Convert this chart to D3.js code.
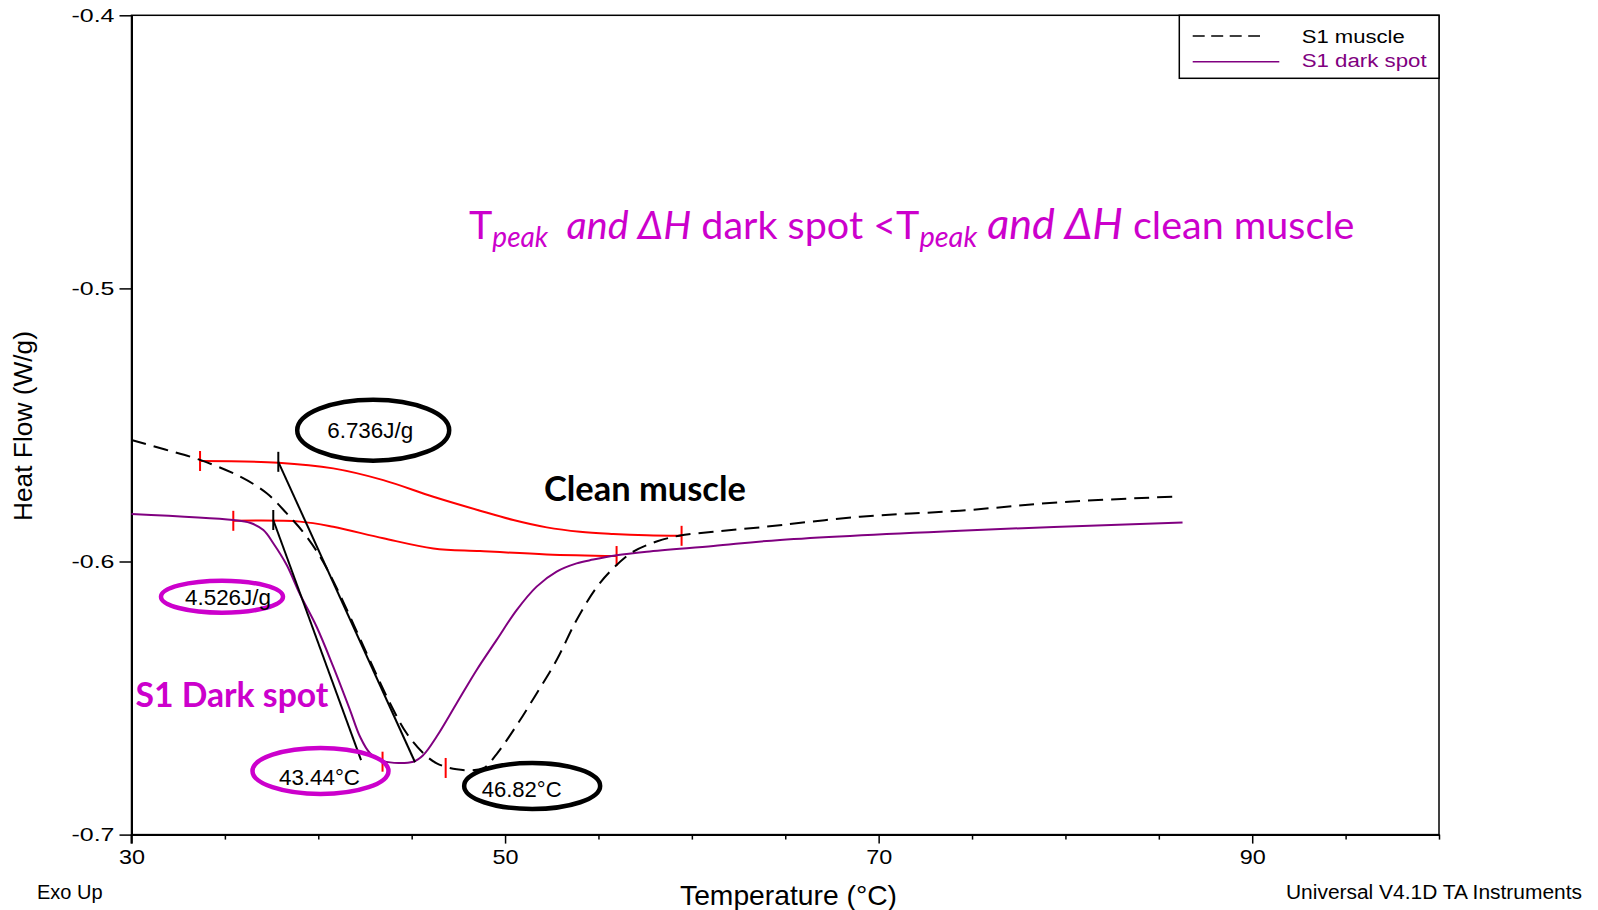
<!DOCTYPE html>
<html>
<head>
<meta charset="utf-8">
<script src="https://cdn.jsdelivr.net/npm/d3@7"></script>
<style>
  body { margin: 0; background: #fff; }
  svg { display: block; }
  text { white-space: pre; }
</style>
</head>
<body>
<svg id="chart" width="1598" height="910"></svg>
<script>
// ---------------- DATA ----------------
// S1 muscle (dashed black) : temperature (°C) and heat flow (W/g)
const muscleTemp = [30.0, 31.8, 33.67, 35.81, 37.24, 38.31, 39.38, 40.45, 43.84, 44.73, 45.62, 46.34, 47.41, 48.83, 49.55, 50.62, 51.69, 52.76, 53.83, 54.90, 55.79, 56.86, 58.11, 59.36, 61.15, 63.64, 69.0, 74.35, 79.71, 85.95];
const muscleHeatFlow = [-0.5555, -0.5590, -0.5628, -0.5689, -0.5750, -0.5824, -0.5909, -0.6025, -0.6519, -0.6629, -0.6702, -0.6739, -0.6761, -0.6757, -0.6705, -0.6600, -0.6483, -0.6361, -0.6214, -0.6095, -0.6025, -0.5964, -0.5927, -0.5905, -0.5891, -0.5875, -0.5836, -0.5814, -0.5783, -0.5762];

// S1 dark spot (purple solid)
const darkTemp = [30.0, 35.45, 36.34, 37.06, 37.59, 38.31, 39.02, 39.91, 40.80, 41.70, 42.23, 42.77, 43.48, 45.09, 45.62, 46.34, 47.41, 48.48, 49.55, 50.62, 51.69, 52.76, 53.83, 54.72, 55.97, 57.58, 61.15, 64.72, 74.35, 86.27];
const darkHeatFlow = [-0.5826, -0.5848, -0.5858, -0.5885, -0.5933, -0.6013, -0.6120, -0.6239, -0.6385, -0.6544, -0.6641, -0.6702, -0.6731, -0.6733, -0.6709, -0.6641, -0.6519, -0.6397, -0.6287, -0.6178, -0.6092, -0.6037, -0.6007, -0.5993, -0.5977, -0.5964, -0.5943, -0.5921, -0.5887, -0.5857];

// Integration baselines (red)
const muscleBaseTemp = [33.67, 37.86, 40.80, 43.48, 46.16, 48.66, 50.44, 52.23, 54.01, 55.79, 57.58, 59.45];
const muscleBaseHeatFlow = [-0.5632, -0.5638, -0.5659, -0.5702, -0.5763, -0.5814, -0.5848, -0.5875, -0.5891, -0.5899, -0.5904, -0.5906];
const darkBaseTemp = [35.45, 39.02, 40.80, 43.48, 46.16, 48.66, 52.23, 55.97];
const darkBaseHeatFlow = [-0.5851, -0.5854, -0.5873, -0.5915, -0.5952, -0.5962, -0.5974, -0.5980];

// Onset tangent lines (black): [start, end]
const muscleTangentTemp = [37.86, 45.18];
const muscleTangentHeatFlow = [-0.5635, -0.6735];
const darkTangentTemp = [37.59, 42.29];
const darkTangentHeatFlow = [-0.5848, -0.6727];

// Peak markers
const peakTemps = [43.44, 46.82];
const peakHeatFlows = [-0.6733, -0.6756];
const peakLabels = ["43.44°C", "46.82°C"];
const enthalpyLabels = ["6.736J/g", "4.526J/g"];

// Axes
const xMajorTicks = [30, 50, 70, 90];
const xMinorTicks = [35, 40, 45, 55, 60, 65, 75, 80, 85, 95, 100];
const yTicks = [-0.4, -0.5, -0.6, -0.7];
const xDomain = [30, 100];
const yDomain = [-0.7, -0.4];
const seriesNames = ["S1 muscle", "S1 dark spot"];

// ---------------- CHART ----------------
const svg = d3.select("#chart");
const pLeft = 131.5, pRight = 1439, pTop = 15.3, pBottom = 834.6;
const x = d3.scaleLinear().domain(xDomain).range([pLeft, pRight]);
const y = d3.scaleLinear().domain(yDomain).range([pBottom, pTop]);

const PURPLE = "#800080";
const MAGENTA = "#cc00cc";
const ARIAL = "'Liberation Sans', Arial, sans-serif";
const CALIBRI = "Lato, 'Open Sans', sans-serif";

// frame
svg.append("rect")
  .attr("x", x(xDomain[0])).attr("y", y(yDomain[1]))
  .attr("width", x(xDomain[1]) - x(xDomain[0]))
  .attr("height", y(yDomain[0]) - y(yDomain[1]))
  .attr("fill", "none").attr("stroke", "#000").attr("stroke-width", 1.5);

// x axis major
const xAxisMajor = svg.append("g").attr("transform", `translate(0,${pBottom})`)
  .call(d3.axisBottom(x).tickValues(xMajorTicks).tickSize(9).tickPadding(5).tickSizeOuter(0).tickFormat(d3.format("d")));
xAxisMajor.select(".domain").attr("stroke-width", 2);
xAxisMajor.selectAll(".tick line").attr("stroke-width", 1.5);
xAxisMajor.selectAll(".tick text").attr("font-family", ARIAL).attr("font-size", 21)
  .attr("textLength", 26).attr("lengthAdjust", "spacingAndGlyphs").attr("fill", "#000");

const xAxisMinor = svg.append("g").attr("transform", `translate(0,${pBottom})`)
  .call(d3.axisBottom(x).tickValues(xMinorTicks).tickSize(5).tickSizeOuter(0).tickFormat(""));
xAxisMinor.select(".domain").remove();
xAxisMinor.selectAll(".tick line").attr("stroke-width", 1.5);

// y axis
const yAxis = svg.append("g").attr("transform", `translate(${pLeft},0)`)
  .call(d3.axisLeft(y).tickValues(yTicks).tickSize(12).tickPadding(5).tickSizeOuter(0).tickFormat(d3.format(".1f")));
yAxis.select(".domain").attr("stroke-width", 2);
yAxis.selectAll(".tick line").attr("stroke-width", 1.5);
yAxis.selectAll(".tick text").attr("font-family", ARIAL).attr("font-size", 19)
  .attr("textLength", 43).attr("lengthAdjust", "spacingAndGlyphs").attr("fill", "#000")
  .text(d => d3.format(".1f")(d).replace("−", "-"));
svg.append("line").attr("x1", pLeft).attr("x2", pLeft).attr("y1", pBottom).attr("y2", pBottom + 9)
  .attr("stroke", "#000").attr("stroke-width", 2);

// ---------------- LINES ----------------
const line = d3.line().x(d => x(d[0])).y(d => y(d[1])).curve(d3.curveCatmullRom.alpha(0.5));
const zipPts = (a, b) => a.map((t, i) => [t, b[i]]);

// baselines (red)
[[muscleBaseTemp, muscleBaseHeatFlow], [darkBaseTemp, darkBaseHeatFlow]].forEach(([t, v]) => {
  svg.append("path").attr("d", line(zipPts(t, v))).attr("fill", "none")
    .attr("stroke", "#ff0000").attr("stroke-width", 2);
  [0, t.length - 1].forEach(i => {
    svg.append("line").attr("x1", x(t[i])).attr("x2", x(t[i]))
      .attr("y1", y(v[i]) - 10).attr("y2", y(v[i]) + 10)
      .attr("stroke", "#ff0000").attr("stroke-width", 2);
  });
});

// dark spot curve
svg.append("path").attr("d", line(zipPts(darkTemp, darkHeatFlow))).attr("fill", "none")
  .attr("stroke", PURPLE).attr("stroke-width", 2);

// muscle curve
svg.append("path").attr("d", line(zipPts(muscleTemp, muscleHeatFlow))).attr("fill", "none")
  .attr("stroke", "#000").attr("stroke-width", 2).attr("stroke-dasharray", "15,8");

// tangent lines and onset ticks
[[muscleTangentTemp, muscleTangentHeatFlow], [darkTangentTemp, darkTangentHeatFlow]].forEach(([t, v]) => {
  svg.append("line").attr("x1", x(t[0])).attr("y1", y(v[0])).attr("x2", x(t[1])).attr("y2", y(v[1]))
    .attr("stroke", "#000").attr("stroke-width", 2);
  svg.append("line").attr("x1", x(t[0])).attr("x2", x(t[0]))
    .attr("y1", y(v[0]) - 10).attr("y2", y(v[0]) + 10)
    .attr("stroke", "#000").attr("stroke-width", 2);
});

// peak ticks
peakTemps.forEach((t, i) => {
  svg.append("line").attr("x1", x(t)).attr("x2", x(t))
    .attr("y1", y(peakHeatFlows[i]) - 10).attr("y2", y(peakHeatFlows[i]) + 10)
    .attr("stroke", "#ff0000").attr("stroke-width", 2);
});

// ---------------- ANNOTATIONS ----------------
const ellipses = [
  { label: enthalpyLabels[0], T: 42.94, v: -0.5519, rx: 76, ry: 30.5, color: "#000", dx: -3, dy: 8, tl: 86 },
  { label: enthalpyLabels[1], T: 34.845, v: -0.6129, rx: 61, ry: 16, color: MAGENTA, dx: 6, dy: 8, tl: 86 },
  { label: peakLabels[0], T: 40.118, v: -0.6767, rx: 68, ry: 23, color: MAGENTA, dx: -1, dy: 14, tl: 81 },
  { label: peakLabels[1], T: 51.45, v: -0.6822, rx: 68, ry: 23, color: "#000", dx: -10.5, dy: 11, tl: 80 }
];
ellipses.forEach(e => {
  svg.append("ellipse").attr("cx", x(e.T)).attr("cy", y(e.v)).attr("rx", e.rx).attr("ry", e.ry)
    .attr("fill", "none").attr("stroke", e.color).attr("stroke-width", 4.5);
  svg.append("text").attr("x", x(e.T) + e.dx).attr("y", y(e.v) + e.dy)
    .attr("text-anchor", "middle").attr("font-family", ARIAL).attr("font-size", 22)
    .attr("textLength", e.tl).attr("lengthAdjust", "spacingAndGlyphs")
    .attr("fill", "#000").text(e.label);
});

// Clean muscle / S1 Dark spot
svg.append("text").attr("x", x(52.08)).attr("y", y(-0.57785))
  .attr("font-family", CALIBRI).attr("font-weight", 700).attr("font-size", 34)
  .attr("textLength", 202).attr("lengthAdjust", "spacingAndGlyphs")
  .attr("fill", "#000").text("Clean muscle");
svg.append("text").attr("x", x(30.21)).attr("y", y(-0.65328))
  .attr("font-family", CALIBRI).attr("font-weight", 700).attr("font-size", 35)
  .attr("textLength", 193).attr("lengthAdjust", "spacingAndGlyphs")
  .attr("fill", MAGENTA).text("S1 Dark spot");

// Title statement
const title = svg.append("text").attr("x", x(48.07)).attr("y", y(-0.48173))
  .attr("font-family", CALIBRI).attr("font-size", 39.5).attr("fill", MAGENTA);
title.append("tspan").text("T");
title.append("tspan").attr("font-style", "italic").attr("font-size", 28).attr("dy", 8).text("peak");
title.append("tspan").attr("font-style", "italic").attr("dy", -8).text("  and ΔH");
title.append("tspan").text(" dark spot <T");
title.append("tspan").attr("font-style", "italic").attr("font-size", 29).attr("dy", 8).text("peak");
title.append("tspan").attr("font-style", "italic").attr("font-size", 43).attr("dy", -8).text(" and ΔH");
title.append("tspan").text(" clean muscle");

// ---------------- LEGEND ----------------
const lg = svg.append("g");
lg.append("rect").attr("x", 1179.3).attr("y", pTop).attr("width", pRight - 1179.3).attr("height", 78.3 - pTop)
  .attr("fill", "#fff").attr("stroke", "#000").attr("stroke-width", 1.5);
lg.append("line").attr("x1", 1192.7).attr("x2", 1260).attr("y1", 36).attr("y2", 36)
  .attr("stroke", "#000").attr("stroke-width", 1.5).attr("stroke-dasharray", "12,6.5");
lg.append("line").attr("x1", 1192.7).attr("x2", 1279.3).attr("y1", 61.7).attr("y2", 61.7)
  .attr("stroke", PURPLE).attr("stroke-width", 1.5);
lg.append("text").attr("x", 1301.7).attr("y", 43).attr("font-family", ARIAL).attr("font-size", 18)
  .attr("textLength", 103).attr("lengthAdjust", "spacingAndGlyphs").attr("fill", "#000").text(seriesNames[0]);
lg.append("text").attr("x", 1301.7).attr("y", 66.5).attr("font-family", ARIAL).attr("font-size", 18)
  .attr("textLength", 125).attr("lengthAdjust", "spacingAndGlyphs").attr("fill", PURPLE).text(seriesNames[1]);

// ---------------- AXIS TITLES / FOOTER ----------------
svg.append("text").attr("transform", `translate(32,426) rotate(-90)`)
  .attr("text-anchor", "middle").attr("font-family", ARIAL).attr("font-size", 26)
  .attr("textLength", 190).attr("lengthAdjust", "spacingAndGlyphs").text("Heat Flow (W/g)");
svg.append("text").attr("x", 788.5).attr("y", 905)
  .attr("text-anchor", "middle").attr("font-family", ARIAL).attr("font-size", 28)
  .attr("textLength", 217).attr("lengthAdjust", "spacingAndGlyphs").text("Temperature (°C)");
svg.append("text").attr("x", 37).attr("y", 899).attr("font-family", ARIAL).attr("font-size", 20)
  .text("Exo Up");
svg.append("text").attr("x", 1582).attr("y", 899).attr("text-anchor", "end").attr("font-family", ARIAL).attr("font-size", 20)
  .attr("textLength", 296).attr("lengthAdjust", "spacingAndGlyphs")
  .text("Universal V4.1D TA Instruments");
</script>
</body>
</html>
